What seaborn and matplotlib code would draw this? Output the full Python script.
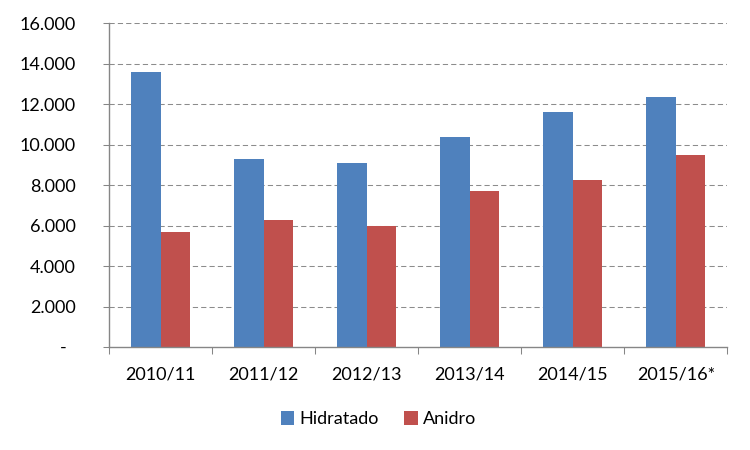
import matplotlib
matplotlib.use("Agg")
import matplotlib.pyplot as plt
import seaborn as sns
import pandas as pd
from matplotlib.patches import Patch
from matplotlib.ticker import FixedLocator

categories = ["2010/11", "2011/12", "2012/13", "2013/14", "2014/15", "2015/16*"]
hidratado = [13600, 9300, 9100, 10380, 11600, 12360]
anidro = [5690, 6280, 5980, 7710, 8250, 9490]
series_names = ["Hidratado", "Anidro"]
y_ticks = [0, 2000, 4000, 6000, 8000, 10000, 12000, 14000, 16000]
y_tick_labels = ["-  ", "2.000", "4.000", "6.000", "8.000", "10.000", "12.000", "14.000", "16.000"]

colors = ["#4F81BD", "#C0504D"]

df = pd.DataFrame({
    "Safra": categories * 2,
    "Valor": hidratado + anidro,
    "Tipo": [series_names[0]] * len(categories) + [series_names[1]] * len(categories),
})

sns.set_theme(style="white")
plt.rcParams["font.family"] = ["Lato", "DejaVu Sans"]

fig = plt.figure(figsize=(7.5, 4.5), dpi=100)
ax = fig.add_axes([0.1457, 0.2289, 0.824, 0.7193])

sns.barplot(data=df, x="Safra", y="Valor", hue="Tipo", order=categories,
            hue_order=series_names, palette=colors, width=0.575, gap=0,
            saturation=1, ax=ax, legend=False, linewidth=0, errorbar=None)

ax.set_xlim(-0.5, len(categories) - 0.5)
ax.set_ylim(0, 16000)
ax.set_yticks(y_ticks)
ax.set_yticklabels(y_tick_labels)
ax.set_xlabel("")
ax.set_ylabel("")

grid_color = "#8C8C8C"
for yv in y_ticks[1:]:
    ax.axhline(yv, color=grid_color, lw=0.75, linestyle=(0, (5, 3)), zorder=0)
ax.set_axisbelow(True)

for s in ["top", "right"]:
    ax.spines[s].set_visible(False)
for s in ["left", "bottom"]:
    ax.spines[s].set_color("#868686")
    ax.spines[s].set_linewidth(1.0)

ax.tick_params(axis="y", which="major", length=4.3, width=0.75, color="#868686",
               direction="out", pad=20, labelsize=13, labelcolor="black", left=True)
ax.tick_params(axis="x", which="major", length=0, pad=14, labelsize=13, labelcolor="black")
ax.xaxis.set_minor_locator(FixedLocator([i - 0.5 for i in range(len(categories) + 1)]))
ax.tick_params(axis="x", which="minor", length=5, width=0.75, color="#868686",
               direction="out", bottom=True)

handles = [Patch(facecolor=c, edgecolor="none", label=n) for c, n in zip(colors, series_names)]
fig.legend(handles=handles, loc="center", bbox_to_anchor=(0.505, 0.068), ncol=2,
           frameon=False, fontsize=13, handlelength=0.75, handleheight=0.75,
           handletextpad=0.3, columnspacing=1.4, labelcolor="black")

fig.savefig("out.png", dpi=100)
